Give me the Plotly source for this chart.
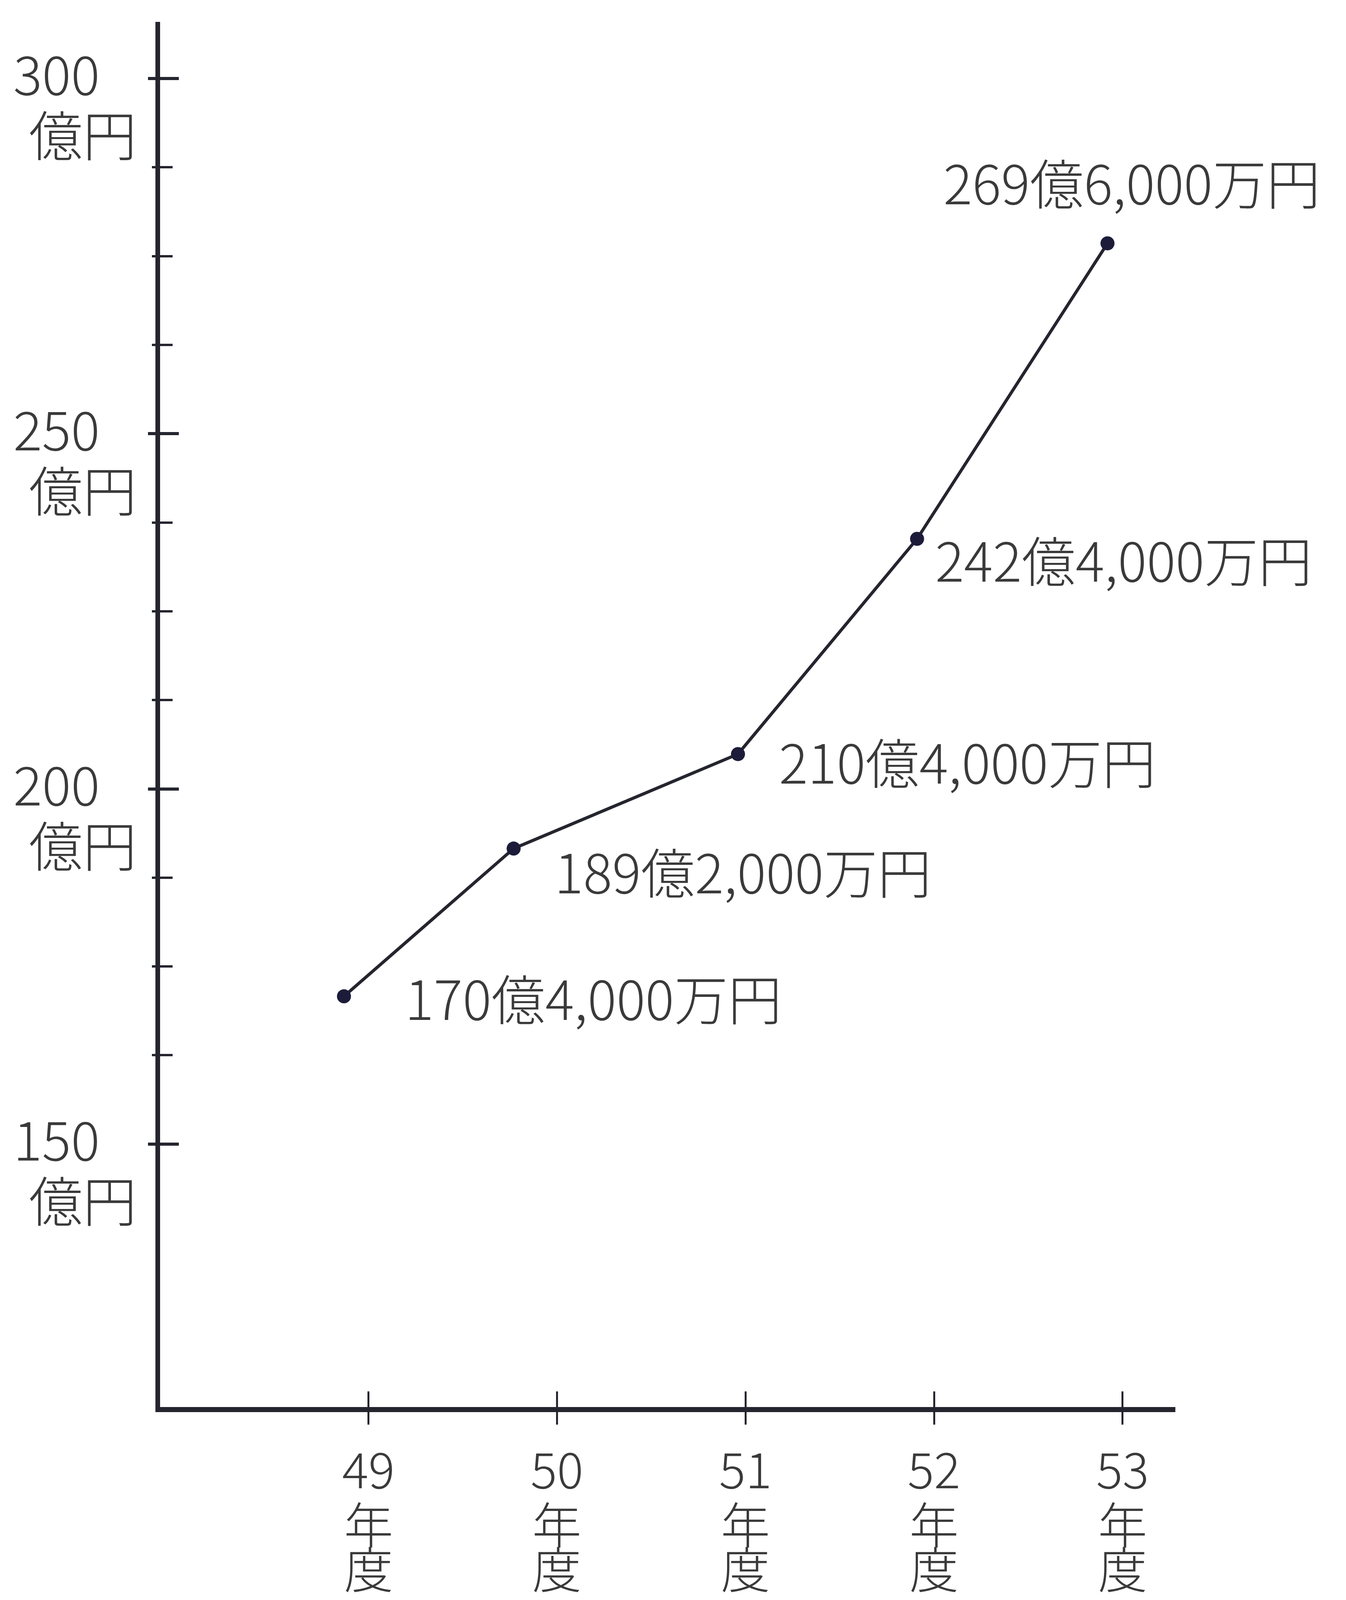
import plotly.graph_objects as go

# ---- data ----
years = [49, 50, 51, 52, 53]
year_ticktext = ["49", "50", "51", "52", "53"]
year_unit_1 = "年"
year_unit_2 = "度"
# positions where the points are drawn (hand drawn chart: slightly left of the ticks)
point_x = [48.87, 49.77, 50.96, 51.91, 52.92]
# plotted heights (億円) as drawn on the chart
point_y = [170.8, 191.6, 204.9, 235.2, 276.8]
point_labels = ["170億4,000万円", "189億2,000万円", "210億4,000万円",
                "242億4,000万円", "269億6,000万円"]
y_major = [150, 200, 250, 300]
y_major_text = ["150", "200", "250", "300"]
y_unit = "億円"
y_minor = [162.5, 175, 187.5, 212.5, 225, 237.5, 262.5, 275, 287.5]

# ---- styling ----
FONT = "Noto Sans CJK JP Light, Noto Sans CJK JP, Noto Sans CJK SC, sans-serif"
INK = "#25252f"
TXT = "#3a3a3a"
FS = 138
FS_YEAR = 126
REF_W, REF_H = 3447, 4370
X_DOMAIN = [404 / REF_W, 3016 / REF_W]
Y_DOMAIN = [1 - 3849 / REF_H, 1 - 51 / REF_H]
UNIT_DROP = 7.6          # 億円 sits this far (in axis units) under its number
YEAR_ROW_1 = 1 - 4165 / REF_H
YEAR_ROW_2 = 1 - 4288 / REF_H
YUNIT_X = 64 / REF_W

# per-label offsets in pixels (xanchor, xshift, yshift)
label_offsets = [("left", 154, 0), ("left", 103, -55), ("left", 103, -16),
                 ("left", 44, -50), ("left", -422, 160)]

fig = go.Figure()
fig.add_trace(go.Scatter(
    x=point_x, y=point_y, mode="lines+markers",
    line=dict(color=INK, width=8),
    marker=dict(color="#1c1c3a", size=36),
    hoverinfo="skip", showlegend=False))
# invisible companion trace so that the overlay axes (crossing ticks) are drawn
fig.add_trace(go.Scatter(
    x=point_x, y=point_y, xaxis="x2", yaxis="y2", mode="markers",
    marker=dict(opacity=0), hoverinfo="skip", showlegend=False))

yr = [113, 308]
xr = [47.895, 53.28]

fig.update_layout(
    autosize=True,
    margin=dict(l=0, r=0, t=0, b=0, pad=0),
    paper_bgcolor="white", plot_bgcolor="white",
    font=dict(family=FONT, color=TXT, size=FS, weight=300),
    xaxis=dict(domain=X_DOMAIN, range=xr, showgrid=False, zeroline=False,
               automargin=False,
               showline=True, linecolor=INK, linewidth=13,
               tickmode="array", tickvals=years, ticktext=year_ticktext,
               ticks="outside", ticklen=32, tickwidth=5, tickcolor=INK,
               tickfont=dict(family=FONT, size=FS_YEAR, color=TXT, weight=300),
               ticklabelstandoff=12),
    xaxis2=dict(domain=X_DOMAIN, range=xr, overlaying="x", anchor="y", side="bottom",
                automargin=False,
                showgrid=False, zeroline=False, showline=False,
                tickmode="array", tickvals=years,
                ticks="inside", ticklen=40, tickwidth=5, tickcolor=INK,
                showticklabels=False),
    yaxis=dict(domain=Y_DOMAIN, range=yr, showgrid=False, zeroline=False,
               automargin=False,
               showline=True, linecolor=INK, linewidth=12,
               tickmode="array", tickvals=y_major, ticktext=y_major_text,
               ticks="outside", ticklen=19, tickwidth=8, tickcolor=INK,
               minor=dict(tickmode="array", tickvals=y_minor, ticks="outside",
                          ticklen=9, tickwidth=6, tickcolor=INK, showgrid=False),
               tickfont=dict(family=FONT, size=FS, color=TXT, weight=300),
               ticklabelstandoff=96, ticklabelshift=-6),
    yaxis2=dict(domain=Y_DOMAIN, range=yr, overlaying="y", anchor="x", side="left",
                automargin=False,
                showgrid=False, zeroline=False, showline=False,
                tickmode="array", tickvals=y_major,
                ticks="inside", ticklen=48, tickwidth=8, tickcolor=INK,
                minor=dict(tickmode="array", tickvals=y_minor, ticks="inside",
                           ticklen=32, tickwidth=6, tickcolor=INK, showgrid=False),
                showticklabels=False),
)

# unit under each y tick number
for v in y_major:
    fig.add_annotation(xref="paper", x=YUNIT_X, xanchor="left",
                       yref="y", y=v - UNIT_DROP, yanchor="middle",
                       text=y_unit, showarrow=False,
                       font=dict(family=FONT, size=FS, color=TXT, weight=300))

# vertical "年 / 度" under each year number
for yv in years:
    fig.add_annotation(xref="x", x=yv, xanchor="center",
                       yref="paper", y=YEAR_ROW_1, yanchor="middle",
                       text=year_unit_1, showarrow=False,
                       font=dict(family=FONT, size=FS_YEAR, color=TXT, weight=300))
    fig.add_annotation(xref="x", x=yv, xanchor="center",
                       yref="paper", y=YEAR_ROW_2, yanchor="middle",
                       text=year_unit_2, showarrow=False,
                       font=dict(family=FONT, size=FS_YEAR, color=TXT, weight=300))

# value labels beside the points
for xv, yv, lab, (anc, dx, dy) in zip(point_x, point_y, point_labels, label_offsets):
    fig.add_annotation(xref="x", x=xv, yref="y", y=yv,
                       xanchor=anc, yanchor="middle", xshift=dx, yshift=dy,
                       text=lab, showarrow=False,
                       font=dict(family=FONT, size=FS, color=TXT, weight=300))

fig.write_html("out.html", default_width="100%",
               default_height="calc(100vh - 16px)",
               config={"responsive": True, "displayModeBar": False})
